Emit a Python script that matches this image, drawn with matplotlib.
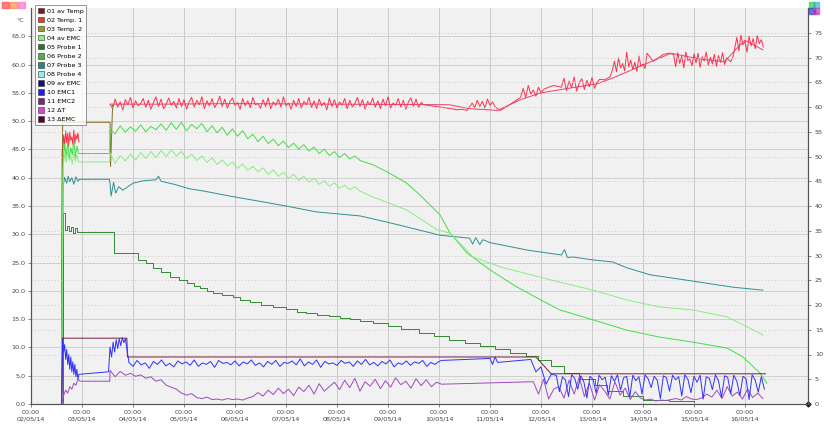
import numpy as np
import matplotlib
matplotlib.use("Agg")
import matplotlib.pyplot as plt
from matplotlib.patches import Patch, Rectangle

# ---------------- data (days since 02/05/14 00:00) ----------------
x_tick_days = list(range(15))
x_tick_labels = ["00:00\n%02d/05/14" % d for d in range(2, 17)]
left_ticks = [0, 5, 10, 15, 20, 25, 30, 35, 40, 45, 50, 55, 60, 65]
right_ticks = [0, 5, 10, 15, 20, 25, 30, 35, 40, 45, 50, 55, 60, 65, 70, 75]

legend_labels = ["01 av Temp", "02 Temp. 1", "03 Temp. 2", "04 av EMC", "05 Probe 1",
                 "06 Probe 2", "07 Probe 3", "08 Probe 4", "09 av EMC", "10 EMC1",
                 "11 EMC2", "12 \u0394T", "13 \u0394EMC"]
legend_colors = ["#8a1020", "#e04020", "#9a9a20", "#80f080", "#207a20",
                 "#50b050", "#208a8a", "#90f0f0", "#101080", "#2020e0",
                 "#802080", "#e040e0", "#600030"]

# Temp. 1 (deg C) - noisy segments: (start day, step, values)
temp1_segments = [
    (0.60, 0.02, [0, 44.5, 47.5, 45.8, 48.3, 46.2, 47.9, 45.5, 48.1, 46.6, 47.2, 45.9,
                  48.4, 46.0, 47.6, 46.8, 47.9, 46.3]),
    (1.55, 0.05, [53.0, 52.2, 53.9, 52.5, 53.4, 52.0, 53.8, 52.9, 54.2, 52.3,
                  53.6, 52.7, 53.1, 54.0, 52.4, 53.7, 52.1, 53.3, 54.3, 52.6,
                  53.9, 52.2, 53.0, 54.1, 52.8, 53.5, 52.3, 54.0, 52.6, 53.8,
                  52.1, 53.4, 54.2, 52.5, 53.7, 52.9, 54.3, 52.2, 53.6, 52.7,
                  54.0, 52.4, 53.2, 54.4, 52.6, 53.9, 52.3, 53.5, 54.1, 52.8,
                  53.3, 52.1, 54.0, 52.7, 53.6, 52.4, 54.2, 52.9, 53.1, 52.3,
                  53.8, 52.6, 54.1, 52.2, 53.4, 52.8, 53.9, 52.5, 54.3, 52.7,
                  53.2, 52.1, 53.7, 52.6, 54.0, 52.3, 53.5, 52.9, 54.2, 52.4,
                  53.6, 52.2, 53.9, 52.7, 53.3, 52.0, 54.1, 52.6, 53.8, 52.3,
                  53.4, 52.8, 54.0, 52.2, 53.7, 52.5, 53.1, 54.2, 52.6, 53.8,
                  52.1, 53.5, 52.9, 54.1, 52.4, 53.6, 52.2, 53.9, 52.7, 54.3,
                  52.3, 53.2, 52.8, 54.0, 52.5, 53.7, 52.1, 53.4, 54.1, 52.6,
                  53.9, 52.4, 53.3, 52.9]),
    (8.25, 0.10, [52.2, 52.0, 52.1, 51.9]),
    (8.65, 0.05, [53.2, 52.4, 53.7, 52.6, 53.5, 52.3, 53.9, 52.8, 53.4, 52.5]),
    (9.20, 0.10, [51.9, 52.4, 53.0, 53.6, 54.2]),
    (9.65, 0.05, [55.8, 54.2, 56.3, 54.8, 55.5, 54.4, 56.0, 55.0]),
    (10.05, 0.10, [55.6, 56.0, 56.3]),
    (10.40, 0.05, [56.0, 57.6, 55.4, 57.1, 55.9, 57.8, 55.3, 56.8, 57.5, 55.6, 57.2, 56.1,
                   57.7, 55.8, 56.9, 57.4]),
    (11.25, 0.10, [57.3, 57.8]),
    (11.40, 0.04, [59.0, 60.6, 58.7, 61.2, 59.4, 60.2, 58.9, 62.2, 59.6, 60.8, 59.1, 60.4,
                   58.8, 61.5, 59.7, 60.1, 59.3, 62.0]),
    (12.20, 0.10, [60.6, 61.2, 61.8, 62.0]),
    (12.60, 0.04, [61.8, 59.6, 62.1, 60.2, 61.5, 59.4, 62.2, 60.7, 61.0, 59.8, 61.9, 60.3,
                   62.0, 59.5, 61.4, 60.6, 62.2, 59.9, 61.3, 60.1, 61.8, 59.7, 61.6, 60.4,
                   62.1, 60.0, 61.2]),
    (13.72, 0.05, [60.5, 61.5]),
    (13.80, 0.04, [63.0, 64.8, 62.4, 65.2, 63.5, 64.1, 62.2, 65.0, 63.3, 64.6, 62.8, 65.1,
                   63.7, 64.4, 63.1]),
]

avtemp_t = [1.56, 2.5, 4.0, 6.0, 8.2, 8.6, 9.15, 9.6, 10.0, 10.4,
            11.1, 11.4, 12.1, 12.55, 13.1, 13.6, 13.8, 14.0, 14.35]
avtemp_v = [53.0, 53.0, 53.1, 53.0, 52.9, 52.2, 51.9, 53.8, 55.0,
            55.6, 56.6, 57.6, 60.3, 62.0, 61.0, 60.5, 62.5, 64.3, 62.6]

temp2_t = [0.60, 0.62, 1.55, 1.56, 1.60]
temp2_v = [0, 49.8, 49.8, 42.0, 52.8]

# Probes / EMC (%)
probe1_t = [0.60, 0.63, 0.66, 0.70, 0.74, 0.78, 0.82, 0.86, 0.90, 0.95, 1.60, 1.63, 2.00,
            2.10, 2.25, 2.39, 2.55, 2.73, 2.90, 3.06, 3.20, 3.31, 3.45, 3.57, 3.75, 3.96,
            4.10, 4.29, 4.50, 4.75, 5.00, 5.22, 5.40, 5.61, 5.85, 6.06, 6.25, 6.45, 6.70,
            7.00, 7.25, 7.60, 7.90, 8.20, 8.50, 8.80, 9.10, 9.40, 9.70, 9.95, 10.20, 10.45,
            10.75, 11.05, 11.30, 11.60, 12.00, 12.50, 13.00]
probe1_v = [0, 38.5, 35.2, 36.0, 34.9, 35.8, 34.6, 35.5, 34.8, 34.7, 34.7, 30.5, 30.5,
            29.1, 28.4, 27.5, 26.7, 25.7, 25.0, 24.4, 23.8, 23.4, 22.9, 22.4, 22.0, 21.6,
            21.1, 20.6, 20.1, 19.6, 19.1, 18.6, 18.3, 18.0, 17.7, 17.4, 17.1, 16.8, 16.3,
            15.8, 15.2, 14.3, 13.7, 13.0, 12.4, 11.8, 11.1, 10.4, 9.6, 8.8, 7.6, 6.3,
            5.0, 3.8, 2.7, 1.6, 0.9, 0.6, 0.5]

probe3_t = [0.60, 0.63, 0.66, 0.70, 0.73, 0.76, 0.80, 0.84, 0.88, 0.92, 0.95, 1.54, 1.55,
            1.57, 1.62, 1.66, 1.72, 1.80, 2.00, 2.20, 2.45, 2.50, 2.55, 2.80, 3.10, 3.40,
            3.90, 4.40, 5.00, 5.60, 6.45, 7.04, 8.02, 8.60, 8.66, 8.72, 8.80, 8.86, 9.00,
            9.73, 10.40, 10.46, 10.52, 10.63, 11.02, 11.40, 11.69, 12.14, 12.67, 13.12,
            13.76, 14.35]
probe3_v = [0, 44.0, 45.8, 44.6, 46.0, 44.9, 45.7, 44.4, 45.9, 45.0, 45.4, 45.4, 44.5,
            42.0, 44.8, 42.6, 43.9, 43.2, 44.6, 45.1, 45.3, 46.0, 45.0, 44.4, 43.5, 43.0,
            42.0, 41.1, 40.0, 38.8, 38.0, 36.6, 34.1, 33.5, 32.3, 33.6, 32.2, 33.2, 32.6,
            31.1, 30.1, 31.2, 29.6, 29.7, 29.1, 28.7, 27.5, 26.1, 25.3, 24.6, 23.6, 23.0]

probe2_segments = [
    (0.60, 0.03, [0, 49.0, 52.5, 50.0, 53.0, 49.6, 51.8, 50.4, 53.2, 49.9, 52.1, 50.6]),
    (1.55, 0.10, [55.4, 54.6, 56.2, 54.9, 56.0, 55.1, 56.4, 55.0, 56.1, 55.4, 56.6,
                  55.3, 56.8, 55.5, 56.9, 55.2, 56.5, 55.6, 56.7, 55.0, 56.2,
                  54.8, 55.9, 54.3, 55.6, 54.1, 55.2, 53.6, 54.5, 53.0, 54.1,
                  52.6, 53.5, 52.2, 53.1, 51.8, 52.7, 51.5, 52.4, 51.1, 51.9,
                  50.6, 51.5, 50.2, 51.0, 49.8, 50.6, 49.5, 50.1, 49.2]),
]
probe2_tail_t = [6.71, 7.0, 7.37, 7.63, 8.02, 8.22, 8.55, 9.0, 9.5, 10.0, 10.37, 11.02,
                 11.69, 12.33, 12.98, 13.65, 13.96, 14.29, 14.43]
probe2_tail_v = [48.3, 46.8, 44.6, 42.2, 38.2, 34.5, 30.5, 27.1, 23.8, 21.0, 19.0, 17.0,
                 14.9, 13.5, 12.5, 11.3, 9.5, 6.3, 4.2]

probe4_segments = [
    (0.60, 0.03, [0, 48.0, 50.5, 48.8, 51.0, 49.2, 50.1, 48.5, 50.8, 49.0, 50.3, 48.9]),
    (1.55, 0.10, [50.7, 48.6, 50.2, 49.1, 50.5, 49.3, 50.8, 49.6, 51.0, 49.8, 51.2,
                  50.0, 51.4, 50.1, 51.0, 49.6, 50.5, 49.2, 50.1, 48.8, 49.7,
                  48.4, 49.3, 48.1, 48.9, 47.6, 48.5, 47.2, 48.0, 46.9, 47.7,
                  46.4, 47.3, 46.0, 46.8, 45.6, 46.4, 45.2, 46.0, 44.8, 45.6,
                  44.4, 45.1, 44.0, 44.7, 43.6, 44.2, 43.3, 43.9, 43.0]),
]
probe4_tail_t = [6.71, 7.37, 7.96, 8.22, 8.67, 9.2, 10.37, 11.02, 11.69, 12.33, 12.98,
                 13.65, 14.29, 14.35]
probe4_tail_v = [41.8, 39.2, 35.2, 34.5, 29.7, 27.7, 24.6, 23.0, 21.0, 19.6, 19.0, 17.6,
                 14.3, 13.9]

emc1_segments = [
    (0.60, 0.02, [0, 13.0, 10.5, 12.0, 9.0, 11.0, 8.0, 10.0, 7.0, 9.5, 6.5, 8.5, 6.0, 8.0,
                  5.5, 7.0, 5.0, 6.0]),
    (1.52, 0.03, [6.5, 11.5, 9.5, 12.5, 10.5, 13.0, 11.2, 13.2, 11.8, 13.4, 12.4, 13.2]),
    (1.92, 0.08, [8.4, 7.6, 8.8, 7.9, 8.3, 7.2, 8.6, 8.0, 8.9, 7.7,
                  8.2, 7.5, 8.7, 8.1, 8.5, 7.8, 8.9, 7.6, 8.3, 8.0,
                  8.6, 7.4, 8.8, 8.2, 8.4, 7.9, 8.7, 7.7, 8.5, 8.1,
                  8.9, 7.8, 8.3, 7.5, 8.6, 8.0, 8.8, 7.6, 8.4, 8.2,
                  8.7, 7.9, 9.1, 7.7, 8.5, 8.0, 8.9, 7.4, 8.6, 8.1,
                  8.3, 7.8, 8.8, 8.2, 8.5, 7.6, 8.7, 8.0, 9.0, 7.9,
                  8.4, 7.7, 8.6, 8.1, 8.9, 7.5, 8.3, 8.0, 8.7, 7.8,
                  8.5, 8.2, 8.8, 7.6, 8.4, 8.0, 8.6]),
    (8.05, 0.05, [8.8]),
    (9.00, 0.05, [9.2, 8.0, 9.5, 8.4]),
    (9.80, 0.10, [9.0, 6.5, 7.5, 4.0, 6.0]),
    (10.30, 0.06, [5.8, 2.5, 5.5, 4.8, 1.5, 5.9, 5.2, 3.0, 5.7, 4.5, 1.2, 5.6, 5.0, 2.2,
                   5.8, 4.9, 5.4, 1.8, 5.7, 4.6, 5.9, 2.8, 5.3, 5.6, 1.4, 5.8, 4.7, 5.5,
                   2.0, 5.9, 5.1, 3.3, 5.6, 4.8, 1.1, 5.7, 5.3, 2.6, 5.8, 4.9, 5.5, 1.6,
                   5.9, 5.0, 2.3, 5.6, 4.4, 5.8, 1.0, 5.5, 5.2, 2.9, 5.9, 4.7, 1.3, 5.7,
                   5.4, 2.1, 5.8, 4.6, 1.7, 5.6, 5.1, 0.9, 5.9, 4.8, 2.4, 5.5, 3.0]),
]

emc2_segments = [
    (0.60, 0.04, [0, 1.8, 2.8, 2.2, 3.5, 3.0, 4.2, 3.8, 5.0, 4.6]),
    (1.55, 0.10, [6.8, 5.5, 6.6, 5.8]),
    (1.95, 0.10, [6.2, 5.6, 5.9, 5.2, 5.5, 4.6, 4.9, 3.8, 3.4, 3.0,
                  2.2, 1.8, 2.1, 1.3, 1.1, 1.4, 0.9, 1.0, 0.8, 1.1,
                  0.9, 1.0, 0.8, 1.2, 1.5, 2.3, 1.6, 2.8, 1.9, 3.2,
                  2.1, 3.0, 1.7, 3.4, 2.5, 3.8, 2.0, 4.1, 2.6, 3.5,
                  4.4, 2.9, 4.8, 3.3, 5.2, 2.6, 4.5, 3.6, 5.0, 3.1,
                  4.7, 3.4, 5.3, 3.9, 4.6, 3.2, 5.1, 3.7, 4.9, 3.5,
                  4.4, 4.0]),
    (9.85, 0.10, [4.5, 2.0, 5.0, 1.0, 3.0]),
    (10.35, 0.10, [3.5, 1.2, 4.8, 2.0, 5.5, 1.5, 4.2, 0.8, 3.9, 2.6,
                   1.0, 4.5, 1.8, 3.2, 0.9, 2.5, 1.2, 0.8, 1.0, 0.6,
                   0.8, 0.7, 0.9, 1.1, 0.8, 1.5, 1.0, 0.9, 1.2, 2.0,
                   1.4, 2.8, 1.1, 3.5, 1.6, 2.4, 1.0, 3.0, 1.3, 2.2, 1.1]),
]

demc_t = [0.60, 0.62, 1.88, 1.89, 9.90, 10.20, 14.40]
demc_v = [0, 13.3, 13.3, 9.5, 9.5, 6.1, 6.1]

dt_t = [0.60, 0.61, 0.63]
dt_v = [0, 45.0, 2.0]

# ---------------- helpers ----------------
def build(segments, gap=False, hold=False):
    ts, vs = [], []
    for i, (t0, step, vals) in enumerate(segments):
        t = t0 + step * np.arange(len(vals))
        ts.extend(t.tolist())
        vs.extend(vals)
        if i == 0 and len(segments) > 1:
            if gap:
                ts.append(t[-1] + step)
                vs.append(np.nan)
            elif hold:
                ts.append(segments[1][0] - 0.005)
                vs.append(vals[-1])
    return np.array(ts), np.array(vs, dtype=float)

# ---------------- figure ----------------
W, H = 824, 432
fig = plt.figure(figsize=(W / 100, H / 100), dpi=100)
fig.patch.set_facecolor("white")
L, R, B, T = 31, 808, 404, 8
ax = fig.add_axes([L / W, 1 - B / H, (R - L) / W, (B - T) / H])
ax.set_facecolor("#f1f1f1")
ax2 = ax.twinx()

ax.set_xlim(0, (R - L) / 51.0)
ax.set_ylim(0, 70)
ax2.set_ylim(0, 80)

# grids
for d in x_tick_days:
    ax.axvline(d, color="#c9c9c9", lw=0.7, zorder=0)
for v in left_ticks:
    ax.axhline(v, color="#cfcfcf", lw=0.7, zorder=0)
for v in right_ticks:
    ax2.axhline(v, color="#d8c8d0", lw=0.6, ls=(0, (1.5, 2.5)), zorder=0)

# series
lw = 0.7
t, v = build(temp1_segments, gap=True)
ax.plot(t, v, color="#ff3048", lw=0.7, zorder=4)
ax.plot(avtemp_t, avtemp_v, color="#e8406e", lw=0.7, zorder=5)
ax.plot(temp2_t, temp2_v, color="#8a6a20", lw=lw, zorder=6)
ax.plot(dt_t, dt_v, color="#ee44d8", lw=0.8, zorder=3)

ax2.plot(probe1_t, probe1_v, color="#2f8a2f", lw=lw, zorder=3, drawstyle="steps-post")
ax2.plot(probe3_t, probe3_v, color="#2f9090", lw=lw, zorder=3)
t, v = build(probe2_segments, hold=True)
ax2.plot(np.r_[t, probe2_tail_t], np.r_[v, probe2_tail_v], color="#44dd44", lw=lw, zorder=3)
t, v = build(probe4_segments, hold=True)
ax2.plot(np.r_[t, probe4_tail_t], np.r_[v, probe4_tail_v], color="#88ee80", lw=lw, zorder=3)
ax2.plot(demc_t, demc_v, color="#7a1a3a", lw=lw, zorder=3)
t, v = build(emc2_segments, hold=True)
ax2.plot(t, v, color="#a048c0", lw=lw, zorder=3)
t, v = build(emc1_segments)
ax2.plot(t, v, color="#3030ff", lw=lw, zorder=4)

# axes styling
for a in (ax, ax2):
    a.spines["top"].set_visible(False)
    a.spines["left"].set_color("#555555")
    a.spines["right"].set_color("#555555")
    a.spines["bottom"].set_color("#555555")
ax.set_xticks(x_tick_days)
ax.set_xticklabels(x_tick_labels, fontsize=4.6, color="#444444", linespacing=1.5)
ax.set_yticks(left_ticks)
ax.set_yticklabels(["%.1f" % v for v in left_ticks], fontsize=4.6, color="#444444")
ax2.set_yticks(right_ticks)
ax2.set_yticklabels(["%d" % v for v in right_ticks], fontsize=4.6, color="#444444")
ax.tick_params(axis="both", length=2, width=0.5, pad=2, colors="#555555", labelcolor="#444444")
ax2.tick_params(axis="y", length=2, width=0.5, pad=3, colors="#555555", labelcolor="#444444")

fig.text(20 / W, 1 - 20 / H, "\u00b0C", fontsize=4.6, color="#444444", ha="center", va="center")
fig.text(815 / W, 1 - 12 / H, "%", fontsize=4.6, color="#444444", ha="center", va="center")

# corner markers
ax.plot([ax.get_xlim()[1]], [0], marker="D", ms=2.5, color="#222222", clip_on=False, zorder=6)
for i, c in enumerate(["#ff3030", "#f08030", "#ff60c0"]):
    fig.patches.append(Rectangle(((2 + 8 * i) / W, 1 - 8 / H), 7 / W, 6 / H,
                                 transform=fig.transFigure, color=c, alpha=0.6))
for i, c in enumerate(["#30d040", "#30c0d0", "#3040e0", "#d040d0"]):
    fig.patches.append(Rectangle(((809 + 4 * (i % 2)) / W, 1 - (8 + 6 * (i // 2)) / H),
                                 6 / W, 6 / H, transform=fig.transFigure, color=c, alpha=0.7))

# legend
handles = [Patch(facecolor=c, edgecolor="#333333", linewidth=0.4) for c in legend_colors]
leg = fig.legend(handles, legend_labels, loc="upper left",
                 bbox_to_anchor=(35 / W, 1 - 5 / H), fontsize=4.6, frameon=True,
                 fancybox=False, handlelength=1.0, handleheight=1.0, handletextpad=0.45,
                 labelspacing=0.47, borderpad=0.4, borderaxespad=0)
leg.get_frame().set_edgecolor("#666666")
leg.get_frame().set_linewidth(0.6)
leg.set_zorder(10)

fig.savefig("out.png", dpi=100, facecolor="white")
